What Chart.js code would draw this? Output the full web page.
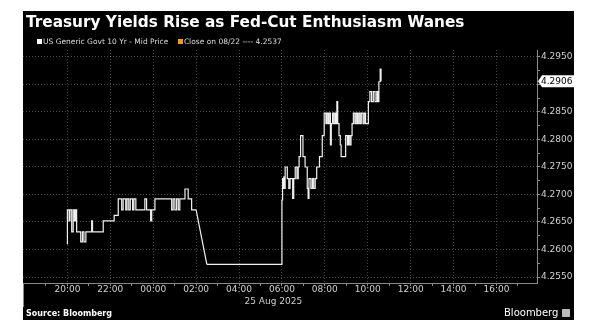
<!DOCTYPE html>
<html lang="en">
<head>
<meta charset="UTF-8">
<title>Treasury Yields Rise as Fed-Cut Enthusiasm Wanes</title>
<style>
    body {
        margin: 0;
        background: #fff;
        font-family: "DejaVu Sans", sans-serif;
    }
    .panel {
        position: absolute;
        left: 23px;
        top: 11px;
        width: 551px;
        height: 309px;
        background: #000;
        color: #fff;
    }
    .panel canvas {
        position: absolute;
        left: 0;
        top: 0;
    }
    .title {
        position: absolute;
        left: 3px;
        top: 4px;
        font-size: 15.3px;
        line-height: 15.3px;
        font-weight: bold;
        white-space: nowrap;
    }
    .legend {
        position: absolute;
        left: 14px;
        top: 27px;
        font-size: 7.5px;
        line-height: 7.5px;
        color: #ddd;
        white-space: nowrap;
    }
    .sq {
        display: inline-block;
        width: 5px;
        height: 5px;
        margin-right: 1px;
    }
    .source {
        position: absolute;
        left: 3px;
        top: 299px;
        font-size: 8px;
        line-height: 8px;
        font-weight: bold;
        white-space: nowrap;
    }
    .brand {
        position: absolute;
        left: 481px;
        top: 297px;
        font-size: 10px;
        line-height: 10px;
        white-space: nowrap;
    }
    .brand i {
        display: inline-block;
        width: 8px;
        height: 8px;
        margin-left: 4px;
        background: #bbb;
        border-radius: 1px;
        vertical-align: -1px;
    }
</style>
<script src="https://cdn.jsdelivr.net/npm/chart.js"></script>
</head>
<body>
<div class="panel">
    <canvas id="yieldChart" width="551" height="309"></canvas>
    <div class="title">Treasury Yields Rise as Fed-Cut Enthusiasm Wanes</div>
    <div class="legend">
        <span class="sq" style="background:#fff"></span>US Generic Govt 10 Yr - Mid Price
        &nbsp;&nbsp;&nbsp;<span class="sq" style="background:#f39c12"></span>Close on 08/22 ---- 4.2537
    </div>
    <div class="source">Source: Bloomberg</div>
    <div class="brand">Bloomberg<i></i></div>
</div>
<script>
    // times are hours after midnight on 24 Aug (24+ = 25 Aug)
    // overnight session, 20:00 to 02:00
    const nightHours = [19.99, 20.00, 20.08, 20.12, 20.20, 20.27, 20.33, 20.38, 20.43, 20.62,
        20.70, 20.77, 20.86, 21.13, 21.17, 21.67, 22.18, 22.37, 22.53, 22.60,
        22.72, 22.78, 22.86, 22.93, 23.04, 23.10, 23.19, 23.61, 23.69, 23.88,
        23.93, 24.08, 24.86, 24.93, 25.01, 25.09, 25.17, 25.24, 25.48, 25.63,
        25.79, 26.00];
    const nightYield = [4.2610, 4.2672, 4.2652, 4.2672, 4.2632, 4.2672, 4.2652, 4.2672, 4.2632, 4.2614,
        4.2632, 4.2614, 4.2632, 4.2652, 4.2632, 4.2652, 4.2662, 4.2692, 4.2672, 4.2692,
        4.2672, 4.2692, 4.2672, 4.2692, 4.2672, 4.2692, 4.2672, 4.2692, 4.2672, 4.2652,
        4.2672, 4.2692, 4.2672, 4.2692, 4.2672, 4.2692, 4.2672, 4.2692, 4.2710, 4.2692,
        4.2672, 4.2672];

    // quiet stretch and the morning move, up to the last print
    const dayHours = [26.50, 30.00, 30.03, 30.06, 30.09, 30.12, 30.15, 30.25, 30.32, 30.38,
        30.50, 30.55, 30.62, 30.70, 30.76, 30.80, 30.87, 30.98, 31.08, 31.18,
        31.22, 31.26, 31.35, 31.42, 31.48, 31.55, 31.62, 31.75, 31.88, 31.97,
        32.05, 32.10, 32.16, 32.20, 32.26, 32.30, 32.36, 32.42, 32.48, 32.52,
        32.56, 32.60, 32.66, 32.72, 32.76, 32.97, 33.05, 33.10, 33.16, 33.22,
        33.27, 33.33, 33.40, 33.46, 33.52, 33.58, 33.64, 33.70, 33.78, 33.84,
        33.90, 34.03, 34.10, 34.18, 34.26, 34.34, 34.42, 34.47, 34.52, 34.58,
        34.62];
    const dayYield = [4.2573, 4.2690, 4.2729, 4.2711, 4.2732, 4.2711, 4.2750, 4.2729, 4.2711, 4.2729,
        4.2693, 4.2729, 4.2750, 4.2729, 4.2750, 4.2769, 4.2807, 4.2769, 4.2750, 4.2711,
        4.2693, 4.2729, 4.2711, 4.2729, 4.2711, 4.2729, 4.2750, 4.2769, 4.2807, 4.2848,
        4.2829, 4.2848, 4.2829, 4.2848, 4.2790, 4.2829, 4.2848, 4.2829, 4.2848, 4.2829,
        4.2869, 4.2829, 4.2807, 4.2790, 4.2769, 4.2807, 4.2790, 4.2807, 4.2790, 4.2807,
        4.2829, 4.2848, 4.2829, 4.2848, 4.2829, 4.2848, 4.2829, 4.2848, 4.2829, 4.2848,
        4.2829, 4.2869, 4.2887, 4.2869, 4.2887, 4.2869, 4.2887, 4.2869, 4.2905, 4.2928,
        4.2906];

    const prevClose = 4.2537;

    const xTickHours = [19, 20, 21, 22, 23, 24, 25, 26, 27, 28, 29, 30, 31, 32, 33, 34, 35, 36, 37, 38, 39, 40, 41];
    const yTickValues = [4.2550, 4.2600, 4.2650, 4.2700, 4.2750, 4.2800, 4.2850, 4.2900, 4.2950];
    const dateLabel = '25 Aug 2025';

    const lineColor = '#f0f0f0';
    const gridColor = 'rgba(255,255,255,0.28)';
    const axisColor = '#8a8a8a';
    const tickFont = { family: 'DejaVu Sans', size: 9 };

    const toPoints = (hrs, vals) => hrs.map((h, i) => ({ x: h, y: vals[i] }));
    const pad = n => String(n).padStart(2, '0');
    const isMajorY = v => Math.round(v * 10000) % 50 === 0;

    // minor y ticks half way between the labelled ones
    const yAllTicks = [];
    yTickValues.forEach((v, i) => {
        yAllTicks.push(v);
        if (i < yTickValues.length - 1) yAllTicks.push((v + yTickValues[i + 1]) / 2);
    });

    // last value tag, date line and left marker
    const extras = {
        id: 'extras',
        afterDraw(chart) {
            const ctx = chart.ctx;
            const xs = chart.scales.x, ys = chart.scales.y;
            const last = dayYield[dayYield.length - 1];
            const y = ys.getPixelForValue(last);
            const x0 = ys.left + 1;
            ctx.save();
            ctx.fillStyle = '#fff';
            ctx.beginPath();
            ctx.moveTo(x0, y);
            ctx.lineTo(x0 + 4, y - 6);
            ctx.lineTo(chart.width, y - 6);
            ctx.lineTo(chart.width, y + 6);
            ctx.lineTo(x0 + 4, y + 6);
            ctx.closePath();
            ctx.fill();
            ctx.fillStyle = '#000';
            ctx.font = '9px "DejaVu Sans"';
            ctx.textBaseline = 'middle';
            ctx.textAlign = 'left';
            ctx.fillText(last.toFixed(4), x0 + 3, y + 0.5);

            ctx.fillStyle = '#ccc';
            ctx.textAlign = 'center';
            ctx.fillText(dateLabel, xs.getPixelForValue(29.6), xs.top + 19);

            ctx.strokeStyle = axisColor;
            ctx.lineWidth = 1;
            ctx.beginPath();
            ctx.moveTo(xs.left + 0.5, xs.top);
            ctx.lineTo(xs.left + 0.5, xs.top + 24);
            ctx.stroke();
            ctx.restore();
        }
    };

    const nightPts = toPoints(nightHours, nightYield);
    const dayPts = toPoints(dayHours, dayYield);

    new Chart(document.getElementById('yieldChart'), {
        type: 'line',
        data: {
            datasets: [{
                data: nightPts,
                stepped: true,
                borderColor: lineColor,
                borderWidth: 1.2,
                pointRadius: 0
            }, {
                // gap between the two sessions is joined straight
                data: [nightPts[nightPts.length - 1], dayPts[0]],
                borderColor: lineColor,
                borderWidth: 1.2,
                pointRadius: 0
            }, {
                data: dayPts,
                stepped: true,
                borderColor: lineColor,
                borderWidth: 1.2,
                pointRadius: 0
            }]
        },
        options: {
            responsive: false,
            animation: false,
            layout: { padding: { top: 39, left: 0, right: 0, bottom: 0 } },
            plugins: {
                legend: { display: false },
                tooltip: { enabled: false }
            },
            scales: {
                x: {
                    type: 'linear',
                    min: 17.93,
                    max: 41.89,
                    afterFit: s => { s.height = 37; },
                    afterBuildTicks: s => { s.ticks = xTickHours.map(v => ({ value: v })); },
                    grid: {
                        color: c => (c.tick && c.tick.value % 2 === 0) ? gridColor : 'transparent',
                        tickColor: axisColor,
                        tickLength: 3,
                        lineWidth: 1
                    },
                    border: { color: axisColor, dash: [1, 2] },
                    ticks: {
                        color: '#d0d0d0',
                        font: tickFont,
                        padding: -2,
                        maxRotation: 0,
                        autoSkip: false,
                        callback: v => v % 2 === 0 ? pad(v % 24) + ':00' : ''
                    }
                },
                y: {
                    position: 'right',
                    min: 4.25391,
                    max: 4.29627,
                    afterFit: s => { s.width = 37; },
                    afterBuildTicks: s => { s.ticks = yAllTicks.map(v => ({ value: v })); },
                    grid: {
                        color: c => (c.tick && isMajorY(c.tick.value)) ? gridColor : 'transparent',
                        tickColor: axisColor,
                        tickLength: 3,
                        lineWidth: 1
                    },
                    border: { color: axisColor, dash: [1, 2] },
                    ticks: {
                        color: '#d0d0d0',
                        font: tickFont,
                        padding: 1,
                        autoSkip: false,
                        callback: v => isMajorY(v) ? v.toFixed(4) : ''
                    }
                }
            }
        },
        plugins: [extras]
    });
</script>
</body>
</html>
